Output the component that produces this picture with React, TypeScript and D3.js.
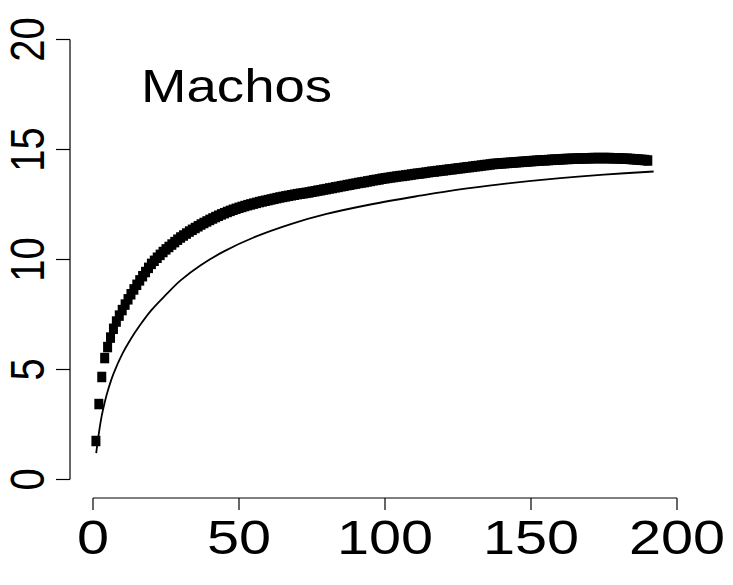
import React, { useEffect, useRef } from "react";
import * as d3 from "d3";

// cumulative curve (squares), one value per sample 1..190
const observed: number[] = [
  1.75, 3.43, 4.66, 5.52, 6.02, 6.45, 6.85, 7.18, 7.45, 7.7,
  7.95, 8.19, 8.42, 8.64, 8.85, 9.05, 9.24, 9.43, 9.62, 9.8,
  9.94, 10.08, 10.21, 10.34, 10.46, 10.57, 10.68, 10.79, 10.9, 11.0,
  11.09, 11.18, 11.27, 11.35, 11.43, 11.51, 11.59, 11.66, 11.73, 11.8,
  11.865, 11.93, 11.99, 12.05, 12.105, 12.16, 12.21, 12.26, 12.305, 12.35,
  12.39, 12.43, 12.47, 12.505, 12.54, 12.575, 12.61, 12.64, 12.67, 12.7,
  12.73, 12.76, 12.79, 12.82, 12.845, 12.87, 12.895, 12.92, 12.945, 12.97,
  12.99, 13.01, 13.03, 13.05, 13.08, 13.1, 13.13, 13.15, 13.18, 13.2,
  13.23, 13.25, 13.28, 13.3, 13.33, 13.35, 13.38, 13.4, 13.43, 13.45,
  13.48, 13.5, 13.52, 13.55, 13.57, 13.6, 13.62, 13.64, 13.67, 13.69,
  13.71, 13.73, 13.75, 13.77, 13.79, 13.8, 13.82, 13.84, 13.86, 13.88,
  13.9, 13.91, 13.93, 13.95, 13.97, 13.99, 14.0, 14.02, 14.04, 14.05,
  14.07, 14.09, 14.1, 14.12, 14.14, 14.15, 14.17, 14.19, 14.2, 14.22,
  14.24, 14.25, 14.27, 14.29, 14.3, 14.32, 14.34, 14.35, 14.36, 14.37,
  14.38, 14.39, 14.4, 14.41, 14.42, 14.43, 14.44, 14.45, 14.46, 14.47,
  14.48, 14.49, 14.5, 14.51, 14.51, 14.52, 14.53, 14.54, 14.54, 14.55,
  14.56, 14.57, 14.57, 14.58, 14.58, 14.59, 14.59, 14.6, 14.6, 14.6,
  14.61, 14.61, 14.61, 14.61, 14.61, 14.61, 14.61, 14.6, 14.6, 14.6,
  14.59, 14.58, 14.58, 14.57, 14.56, 14.55, 14.54, 14.53, 14.52, 14.5,
];

// fitted curve (thin line)
const fitX: number[] = [1.1, 2, 3, 4, 5, 7, 10, 13, 16, 20, 25, 30, 37, 45, 55, 68, 80, 95, 112, 125, 140, 160, 175, 192];
const fitY: number[] = [1.2, 2.1, 2.9, 3.5, 4.0, 4.8, 5.7, 6.4, 7.0, 7.7, 8.4, 9.05, 9.75, 10.38, 11.0, 11.62, 12.07, 12.5, 12.9, 13.18, 13.43, 13.7, 13.86, 14.0];

const xTicks: number[] = [0, 50, 100, 150, 200];
const yTicks: number[] = [0, 5, 10, 15, 20];
const label = "Machos";

const W = 733;
const H = 585;
const FONT = "'Liberation Sans', Arial, sans-serif";

export default function App() {
  const ref = useRef<SVGSVGElement>(null);

  useEffect(() => {
    const svg = d3.select(ref.current);
    svg.selectAll("*").remove();

    const x = d3.scaleLinear().domain([0, 200]).range([93, 677]);
    const y = d3.scaleLinear().domain([0, 20]).range([479.5, 39.5]);

    // y axis
    const axisX = 70;
    svg.append("line")
      .attr("x1", axisX).attr("x2", axisX)
      .attr("y1", y(0)).attr("y2", y(20))
      .attr("stroke", "#000").attr("stroke-width", 1.2);
    yTicks.forEach((t) => {
      svg.append("line")
        .attr("x1", axisX - 14).attr("x2", axisX)
        .attr("y1", y(t)).attr("y2", y(t))
        .attr("stroke", "#000").attr("stroke-width", 1.2);
      svg.append("text")
        .attr("transform", `translate(44,${y(t)}) scale(1.2,1) rotate(-90)`)
        .attr("text-anchor", "middle")
        .attr("font-family", FONT)
        .attr("font-size", 40)
        .text(t);
    });

    // x axis
    const axisY = 498;
    svg.append("line")
      .attr("x1", x(0)).attr("x2", x(200))
      .attr("y1", axisY).attr("y2", axisY)
      .attr("stroke", "#000").attr("stroke-width", 1.2);
    xTicks.forEach((t) => {
      svg.append("line")
        .attr("x1", x(t)).attr("x2", x(t))
        .attr("y1", axisY).attr("y2", axisY + 12)
        .attr("stroke", "#000").attr("stroke-width", 1.2);
      svg.append("text")
        .attr("transform", `translate(${x(t)},554) scale(1.2,1)`)
        .attr("text-anchor", "middle")
        .attr("font-family", FONT)
        .attr("font-size", 48)
        .text(t);
    });

    // squares
    const sw = 9;
    const sh = 10.5;
    svg.append("g")
      .selectAll("rect")
      .data(observed)
      .enter()
      .append("rect")
      .attr("x", (d, i) => x(i + 1) - sw / 2)
      .attr("y", (d) => y(d) - sh / 2)
      .attr("width", sw)
      .attr("height", sh)
      .attr("fill", "#000");

    // fitted line
    const line = d3.line<number>()
      .x((d, i) => x(fitX[i]))
      .y((d) => y(d))
      .curve(d3.curveCatmullRom.alpha(0.5));
    svg.append("path")
      .attr("d", line(fitY))
      .attr("fill", "none")
      .attr("stroke", "#000")
      .attr("stroke-width", 1.8);

    // label
    svg.append("text")
      .attr("transform", "translate(141,101.5) scale(1.2,1)")
      .attr("font-family", FONT)
      .attr("font-size", 45.5)
      .text(label);
  }, []);

  return (
    <svg
      ref={ref}
      width={W}
      height={H}
      style={{ position: "absolute", left: 0, top: 0, background: "#fff" }}
    />
  );
}
